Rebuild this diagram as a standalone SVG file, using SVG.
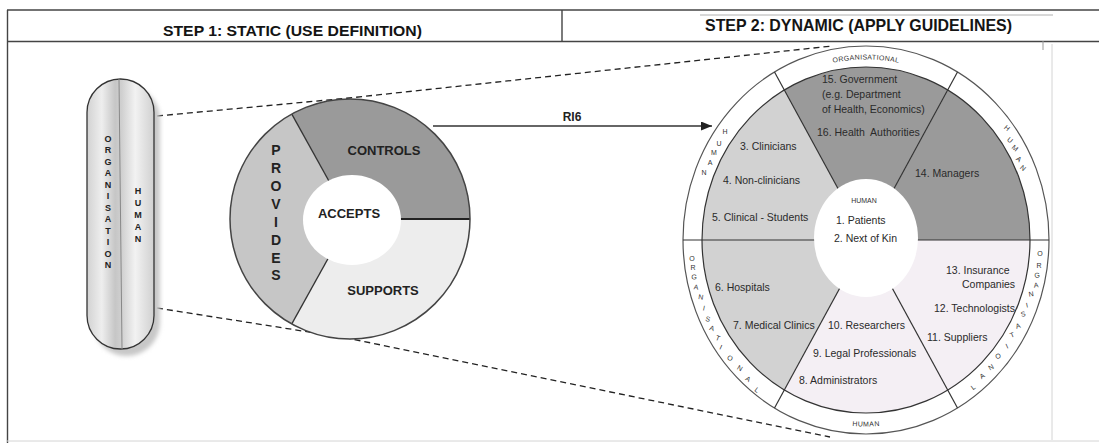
<svg xmlns="http://www.w3.org/2000/svg" width="1099" height="443" viewBox="0 0 1099 443">
  <style>
    .frame { stroke: #444; stroke-width: 1.4; fill: none; }
    .faint { stroke: #d4d4d4; stroke-width: 1; fill: none; }
    .hdr { font-family: "Liberation Sans Narrow", "Liberation Sans", Arial, sans-serif; font-weight: bold; fill: #141414; }
    .dash { stroke: #222; stroke-width: 1.3; stroke-dasharray: 6 4; fill: none; }
    .bold { font-family: "Liberation Sans", Arial, sans-serif; font-weight: bold; fill: #222; }
    .lbl { font-family: "Liberation Sans", Arial, sans-serif; font-size: 10.5px; fill: #2a2a2a; }
    .tiny { font-family: "Liberation Sans", Arial, sans-serif; font-size: 7px; fill: #333; text-anchor: middle; }
    .edge { stroke: #333; stroke-width: 1.2; fill: none; }
    .dark { fill: #9a9a9a; }
    .mid { fill: #d2d2d2; }
    .pale { fill: #f4eff4; }
  </style>
  <defs>
    <linearGradient id="capsuleFill" x1="0" y1="0" x2="1" y2="0">
      <stop offset="0" stop-color="#d2d2d2"/>
      <stop offset="0.22" stop-color="#eeeeee"/>
      <stop offset="0.42" stop-color="#c6c6c6"/>
      <stop offset="0.52" stop-color="#d0d0d0"/>
      <stop offset="0.72" stop-color="#f2f2f2"/>
      <stop offset="1" stop-color="#d0d0d0"/>
    </linearGradient>
    <filter id="soft" x="-20%" y="-20%" width="140%" height="140%">
      <feGaussianBlur stdDeviation="2"/>
    </filter>
    <marker id="arrowHead" markerUnits="userSpaceOnUse" markerWidth="12" markerHeight="10" refX="11" refY="4.5" orient="auto">
      <path d="M0,0 L11,4.5 L0,9 z" fill="#222"/>
    </marker>
  </defs>

  <!-- page frame and header -->
  <g id="header">
    <line class="frame" x1="7" y1="10" x2="1099" y2="10"/>
    <line class="frame" x1="7.5" y1="10" x2="7.5" y2="443"/>
    <line class="frame" x1="7" y1="41.5" x2="1099" y2="41.5"/>
    <line class="frame" x1="562" y1="10" x2="562" y2="41.5"/>
    <line x1="700" y1="15" x2="1053" y2="15" stroke="#b0b0b0" stroke-width="1"/>
    <line x1="1043" y1="41" x2="1043" y2="50" stroke="#999" stroke-width="1"/>
    <line class="faint" x1="1052" y1="44" x2="1052" y2="440"/>
    <line class="faint" x1="7" y1="441" x2="1099" y2="441"/>
    <text class="hdr" x="163" y="35.5" font-size="15" textLength="259" lengthAdjust="spacingAndGlyphs">STEP 1: STATIC (USE DEFINITION)</text>
    <text class="hdr" x="705" y="30.5" font-size="16.5" textLength="307" lengthAdjust="spacingAndGlyphs">STEP 2: DYNAMIC (APPLY GUIDELINES)</text>
  </g>

  <!-- connectors: projection lines and RI6 arrow -->
  <g id="connectors">
    <path class="dash" d="M157,116 L349,98 L832,46"/>
    <path class="dash" d="M157,308 L347,338 L830,437"/>
    <line x1="433" y1="126" x2="712" y2="126" stroke="#333" stroke-width="1.5" marker-end="url(#arrowHead)"/>
    <text class="bold" x="572" y="121" font-size="12" text-anchor="middle">RI6</text>
  </g>

  <!-- step 1: organisation / human capsule -->
  <g id="capsule">
    <rect x="93" y="86" width="67" height="270" rx="33.5" fill="#c8c8c8" filter="url(#soft)"/>
    <rect x="87" y="79" width="67" height="270" rx="33.5" fill="url(#capsuleFill)" stroke="#333" stroke-width="1.3"/>
    <line x1="119" y1="79" x2="122" y2="349" stroke="#888" stroke-width="1"/>
    <g class="bold" font-size="9" text-anchor="middle" fill="#333">
      <text x="108" y="141.5">O</text>
      <text x="108" y="153">R</text>
      <text x="108" y="164.5">G</text>
      <text x="108" y="176">A</text>
      <text x="108" y="187.5">N</text>
      <text x="108" y="199">I</text>
      <text x="108" y="210.5">S</text>
      <text x="108" y="222">A</text>
      <text x="108" y="233.5">T</text>
      <text x="108" y="245">I</text>
      <text x="108" y="256.5">O</text>
      <text x="108" y="268">N</text>
      <text x="138" y="193.5">H</text>
      <text x="138" y="205.5">U</text>
      <text x="138" y="217.5">M</text>
      <text x="138" y="229.5">A</text>
      <text x="138" y="241.5">N</text>
    </g>
  </g>

  <!-- step 1: accepts / controls / supports / provides wheel -->
  <g id="static-wheel">
    <path class="dark" d="M350,219 L291.8,114.1 A120,120 0 0 1 470,219 Z"/>
    <path fill="#ededed" d="M350,219 L470,219 A120,120 0 0 1 291.8,323.9 Z"/>
    <path fill="#c6c6c6" d="M350,219 L291.8,323.9 A120,120 0 0 1 291.8,114.1 Z"/>
    <line x1="350" y1="219" x2="291.8" y2="114.1" stroke="#333" stroke-width="1.3"/>
    <line x1="350" y1="219" x2="291.8" y2="323.9" stroke="#333" stroke-width="1.3"/>
    <line x1="350" y1="219" x2="470" y2="219" stroke="#222" stroke-width="2"/>
    <circle cx="350" cy="219" r="120" fill="none" stroke="#444" stroke-width="1.5"/>
    <ellipse cx="352" cy="220" rx="49" ry="45" fill="#fff"/>
    <text class="bold" x="384" y="155" font-size="13" text-anchor="middle">CONTROLS</text>
    <text class="bold" x="349" y="218" font-size="13" text-anchor="middle">ACCEPTS</text>
    <text class="bold" x="383" y="295" font-size="13" text-anchor="middle">SUPPORTS</text>
    <g class="bold" font-size="14" text-anchor="middle">
      <text x="276" y="155">P</text>
      <text x="276" y="173">R</text>
      <text x="276" y="191">O</text>
      <text x="276" y="209">V</text>
      <text x="276" y="227">I</text>
      <text x="276" y="245">D</text>
      <text x="276" y="263">E</text>
      <text x="276" y="280">S</text>
    </g>
  </g>

  <!-- step 2: stakeholder wheel -->
  <g id="dynamic-wheel">
    <ellipse cx="866" cy="240" rx="183" ry="194" fill="#fff" stroke="#555" stroke-width="1.2"/>
    <path class="dark" d="M866,240 L784,90.2 A164,173 0 0 1 948,90.2 Z"/>
    <path class="dark" d="M866,240 L948,90.2 A164,173 0 0 1 1030,240 Z"/>
    <path class="pale" d="M866,240 L1030,240 A164,173 0 0 1 948,389.8 Z"/>
    <path class="pale" d="M866,240 L948,389.8 A164,173 0 0 1 784,389.8 Z"/>
    <path class="mid" d="M866,240 L784,389.8 A164,173 0 0 1 702,240 Z"/>
    <path class="mid" d="M866,240 L702,240 A164,173 0 0 1 784,90.2 Z"/>
    <g class="edge">
      <line x1="866" y1="240" x2="774.5" y2="72"/>
      <line x1="866" y1="240" x2="957.5" y2="72"/>
      <line x1="866" y1="240" x2="1049" y2="240"/>
      <line x1="866" y1="240" x2="957.5" y2="408"/>
      <line x1="866" y1="240" x2="774.5" y2="408"/>
      <line x1="866" y1="240" x2="683" y2="240"/>
    </g>
    <ellipse cx="866" cy="240" rx="164" ry="173" class="edge"/>
    <ellipse cx="866" cy="238" rx="52" ry="59" fill="#fff"/>

    <!-- ring labels -->
    <path id="ringTop" d="M692.5,240 A173.5,183.5 0 0 1 1039.5,240" fill="none"/>
    <path id="ringBottom" d="M692.5,240 A173.5,183.5 0 0 0 1039.5,240" fill="none"/>
    <text class="tiny" letter-spacing="0.4" dominant-baseline="central"><textPath href="#ringTop" startOffset="50%">ORGANISATIONAL</textPath></text>
    <text class="tiny" letter-spacing="0.3" dominant-baseline="central"><textPath href="#ringBottom" startOffset="50%">HUMAN</textPath></text>
    <g class="tiny">
      <text x="725" y="133.5">H</text>
      <text x="719" y="145.5">U</text>
      <text x="714" y="154.5">M</text>
      <text x="710" y="164.5">A</text>
      <text x="704" y="174.5">N</text>
      <text x="1007" y="130.5" transform="rotate(40 1007 128)">H</text>
      <text x="1010" y="142.5" transform="rotate(40 1010 140)">U</text>
      <text x="1015" y="150.5" transform="rotate(40 1015 148)">M</text>
      <text x="1019" y="161.5" transform="rotate(40 1019 159)">A</text>
      <text x="1023" y="170.5" transform="rotate(40 1023 168)">N</text>
      <text x="692" y="260.5">O</text>
      <text x="693" y="269.5">R</text>
      <text x="694" y="279.5" transform="rotate(3 694 277)">G</text>
      <text x="696" y="289.5" transform="rotate(6 696 287)">A</text>
      <text x="701" y="299.5" transform="rotate(9 701 297)">N</text>
      <text x="704" y="310.5" transform="rotate(12 704 308)">I</text>
      <text x="708" y="321.5" transform="rotate(15 708 319)">S</text>
      <text x="712" y="330.5" transform="rotate(18 712 328)">A</text>
      <text x="718" y="340.5" transform="rotate(21 718 338)">T</text>
      <text x="721" y="349.5" transform="rotate(24 721 347)">I</text>
      <text x="730" y="360.5" transform="rotate(27 730 358)">O</text>
      <text x="740" y="370.5" transform="rotate(30 740 368)">N</text>
      <text x="748" y="381.5" transform="rotate(33 748 379)">A</text>
      <text x="757" y="392.5" transform="rotate(36 757 390)">L</text>
      <text x="1040" y="255.5">O</text>
      <text x="1039" y="267.5">R</text>
      <text x="1037" y="277.5" transform="rotate(-3 1037 275)">G</text>
      <text x="1036" y="287.5" transform="rotate(-6 1036 285)">A</text>
      <text x="1031" y="296.5" transform="rotate(-9 1031 294)">N</text>
      <text x="1027" y="307.5" transform="rotate(-12 1027 305)">I</text>
      <text x="1023" y="316.5" transform="rotate(-15 1023 314)">S</text>
      <text x="1018" y="328.5" transform="rotate(-18 1018 326)">A</text>
      <text x="1012" y="337.5" transform="rotate(-21 1012 335)">T</text>
      <text x="1007" y="348.5" transform="rotate(-24 1007 346)">I</text>
      <text x="998" y="358.5" transform="rotate(-27 998 356)">O</text>
      <text x="991" y="369.5" transform="rotate(-30 991 367)">N</text>
      <text x="982" y="378.5" transform="rotate(-33 982 376)">A</text>
      <text x="973" y="389.5" transform="rotate(-36 973 387)">L</text>
      <text x="864" y="203">HUMAN</text>
    </g>

    <!-- stakeholder labels -->
    <g class="lbl">
      <text x="822" y="83">15. Government</text>
      <text x="822" y="98">(e.g. Department</text>
      <text x="822" y="113">of Health, Economics)</text>
      <text x="817" y="136" xml:space="preserve">16. Health  Authorities</text>
      <text x="740" y="150">3. Clinicians</text>
      <text x="723" y="184">4. Non-clinicians</text>
      <text x="712" y="221">5. Clinical - Students</text>
      <text x="915" y="177">14. Managers</text>
      <text x="836" y="224">1. Patients</text>
      <text x="834" y="242">2. Next of Kin</text>
      <text x="715" y="291">6. Hospitals</text>
      <text x="733" y="329">7. Medical Clinics</text>
      <text x="828" y="329">10. Researchers</text>
      <text x="813" y="357">9. Legal Professionals</text>
      <text x="799" y="384">8. Administrators</text>
      <text x="946" y="274">13. Insurance</text>
      <text x="962" y="288">Companies</text>
      <text x="934" y="312">12. Technologists</text>
      <text x="927" y="341">11. Suppliers</text>
    </g>
  </g>
</svg>
